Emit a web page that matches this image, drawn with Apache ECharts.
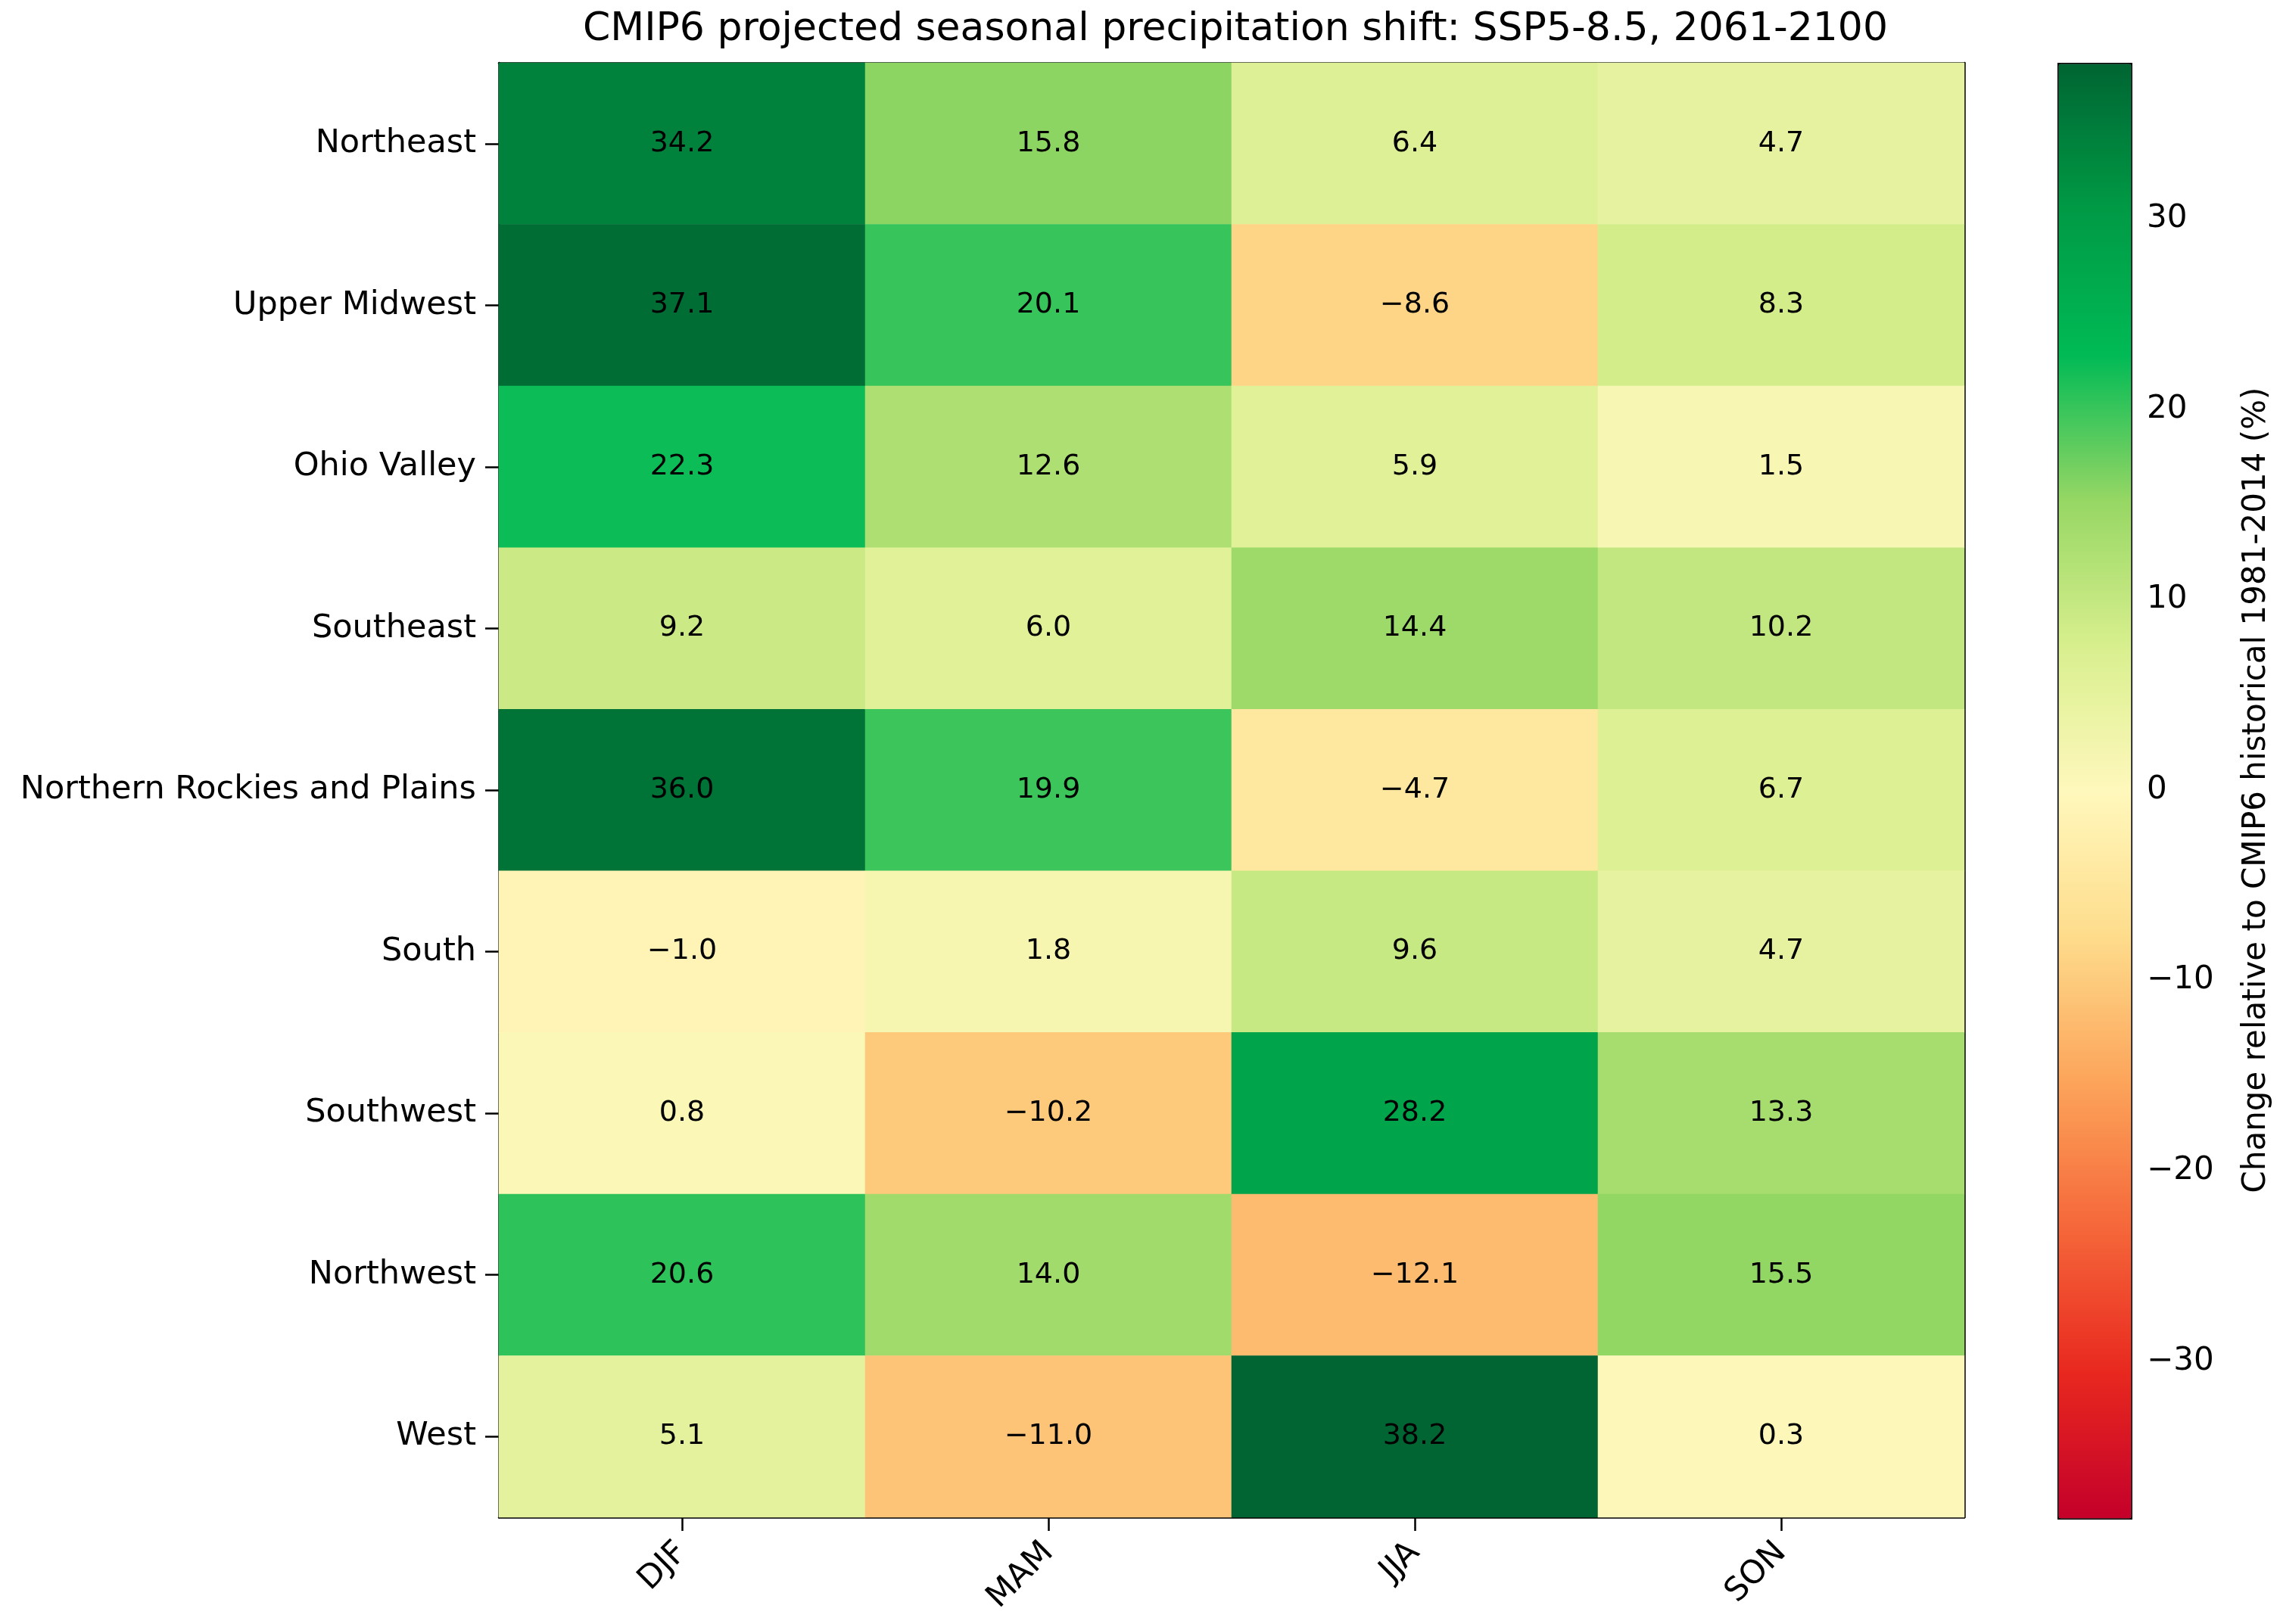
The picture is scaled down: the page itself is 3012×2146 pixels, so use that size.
<!DOCTYPE html>
<html>
<head>
<meta charset="utf-8">
<script src="https://cdn.jsdelivr.net/npm/echarts@6/dist/echarts.min.js"></script>
<style>
  html, body { margin: 0; padding: 0; background: #fff; }
  #chart { width: 3012px; height: 2146px; }
</style>
</head>
<body>
<div id="chart"></div>
<script>
// seasons (columns) and regions (rows, top to bottom)
const seasons = ['DJF', 'MAM', 'JJA', 'SON'];
const regions = ['Northeast', 'Upper Midwest', 'Ohio Valley', 'Southeast',
  'Northern Rockies and Plains', 'South', 'Southwest', 'Northwest', 'West'];

// % change per region, one value per season
const djf = [34.2, 37.1, 22.3, 9.2, 36.0, -1.0, 0.8, 20.6, 5.1];
const mam = [15.8, 20.1, 12.6, 6.0, 19.9, 1.8, -10.2, 14.0, -11.0];
const jja = [6.4, -8.6, 5.9, 14.4, -4.7, 9.6, 28.2, -12.1, 38.2];
const son = [4.7, 8.3, 1.5, 10.2, 6.7, 4.7, 13.3, 15.5, 0.3];

const colorbarTicks = [-30, -20, -10, 0, 10, 20, 30];
const vLimit = 38.2;

const FONT = 'DejaVu Sans';
const fmtNum = (v, d) => {
  const s = Math.abs(v).toFixed(d);
  return v < 0 ? '\u2212' + s : s;
};

const columns = [djf, mam, jja, son];
const cells = [];
columns.forEach((col, xi) => {
  col.forEach((v, yi) => cells.push([xi, yi, v]));
});

const chart = echarts.init(document.getElementById('chart'));

const gridMain = { left: 659, top: 83, width: 1936, height: 1922 };
const gridBar = { left: 2718, top: 83, width: 96, height: 1922 };

const option = {
  backgroundColor: '#ffffff',
  animation: false,
  title: {
    text: 'CMIP6 projected seasonal precipitation shift: SSP5-8.5, 2061-2100',
    left: gridMain.left + gridMain.width / 2,
    textAlign: 'center',
    top: 8,
    textStyle: { fontFamily: FONT, fontSize: 52, fontWeight: 'normal', color: '#000' }
  },
  grid: [
    Object.assign({ containLabel: false }, gridMain),
    Object.assign({ containLabel: false }, gridBar)
  ],
  xAxis: [
    {
      type: 'category', gridIndex: 0, data: seasons, position: 'bottom',
      splitArea: { show: false },
      axisLine: { show: true, lineStyle: { color: '#000', width: 2.5 } },
      axisTick: { show: true, alignWithLabel: true, length: 18, lineStyle: { color: '#000', width: 2.5 } },
      axisLabel: {
        rotate: 45, margin: 40, color: '#000',
        fontFamily: FONT, fontSize: 43
      }
    },
    {
      type: 'category', gridIndex: 0, data: seasons, position: 'top',
      axisLine: { show: true, lineStyle: { color: '#000', width: 2.5 } },
      axisTick: { show: false }, axisLabel: { show: false }
    },
    {
      type: 'value', gridIndex: 1, min: 0, max: 1, show: false
    }
  ],
  yAxis: [
    {
      type: 'category', gridIndex: 0, data: regions, inverse: true, position: 'left',
      axisLine: { show: true, lineStyle: { color: '#000', width: 2.5 } },
      axisTick: { show: true, alignWithLabel: true, length: 18, lineStyle: { color: '#000', width: 2.5 } },
      axisLabel: { margin: 30, color: '#000', fontFamily: FONT, fontSize: 43 }
    },
    {
      type: 'category', gridIndex: 0, data: regions, inverse: true, position: 'right',
      axisLine: { show: true, lineStyle: { color: '#000', width: 2.5 } },
      axisTick: { show: false }, axisLabel: { show: false }
    },
    {
      type: 'value', gridIndex: 1, position: 'right',
      min: -vLimit, max: vLimit,
      splitLine: { show: false },
      axisLine: { show: false },
      axisTick: {
        show: true, length: 15, customValues: colorbarTicks,
        lineStyle: { color: '#000', width: 2.5 }
      },
      axisLabel: {
        show: true, margin: 22, color: '#000', fontFamily: FONT, fontSize: 42,
        customValues: colorbarTicks,
        formatter: v => fmtNum(v, 0)
      },
      name: 'Change relative to CMIP6 historical 1981-2014 (%)',
      nameLocation: 'middle',
      nameRotate: 90,
      nameGap: 146,
      nameTextStyle: { fontFamily: FONT, fontSize: 42, color: '#000' }
    }
  ],
  visualMap: {
    type: 'continuous',
    seriesIndex: 0,
    min: -vLimit,
    max: vLimit,
    orient: 'vertical',
    left: gridBar.left,
    top: gridBar.top,
    itemWidth: gridBar.width,
    itemHeight: gridBar.height,
    padding: 0,
    calculable: false,
    hoverLink: false,
    showLabel: false,
    text: null,
    borderColor: '#000',
    borderWidth: 3,
    inRange: {
      color: ['#c4002a', '#e8281f', '#f5673a', '#fca45a', '#fedc8c', '#fff8bc',
        '#d8ef8e', '#96d764', '#00ba55', '#009a45', '#006532']
    }
  },
  series: [
    {
      type: 'heatmap',
      xAxisIndex: 0,
      yAxisIndex: 0,
      data: cells,
      itemStyle: { borderWidth: 0 },
      label: {
        show: true,
        color: '#000',
        fontFamily: FONT,
        fontSize: 38,
        formatter: p => fmtNum(p.value[2], 1)
      },
      emphasis: { disabled: true }
    }
  ]
};

chart.setOption(option);
</script>
</body>
</html>
